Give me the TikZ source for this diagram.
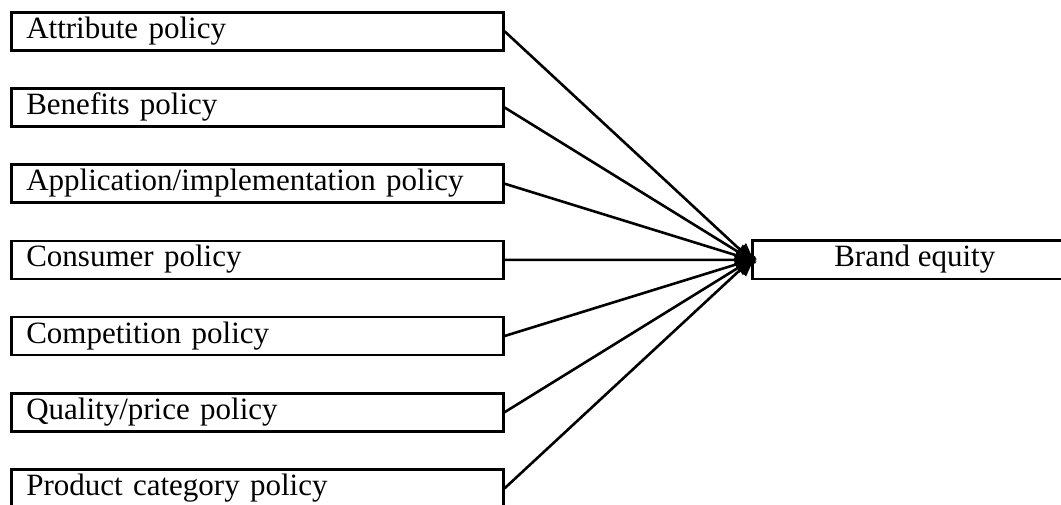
\documentclass[tikz,border=0pt]{standalone}
\usepackage{fontspec}
\setmainfont{Liberation Serif}
\usetikzlibrary{arrows.meta}
\begin{document}
\begin{tikzpicture}[x=1pt,y=-1pt,
  policy/.style={draw, line width=2.6pt, anchor=north west, minimum width=492pt, minimum height=38pt,
    inner xsep=15pt, inner ysep=0pt, text width=462pt, align=left, text height=21pt, text depth=7pt,
    font=\fontsize{31}{37}\selectfont},
  target/.style={draw, line width=2.6pt, anchor=north west, minimum width=325pt, minimum height=38.5pt,
    inner sep=0pt, text height=21pt, text depth=7pt, font=\fontsize{31}{37}\selectfont},
  link/.style={line width=2.6pt, -{Triangle[length=21pt,width=17pt]}, shorten >=-6pt}]
\useasboundingbox (0,0) rectangle (1061,504);
\clip (0,0) rectangle (1061,504);
\node[policy] (p1) at (10,11) {Attribute policy};
\node[policy] (p2) at (10,87.2) {Benefits policy};
\node[policy] (p3) at (10,163.4) {Application/implementation policy};
\node[policy] (p4) at (10,239.5) {Consumer policy};
\node[policy] (p5) at (10,315.7) {Competition policy};
\node[policy] (p6) at (10,391.9) {Quality/price policy};
\node[policy] (p7) at (10,468) {Product category policy};
\node[target] (be) at (751,239.3) {Brand equity};
\foreach \i in {1,...,7} {
  \draw[link] (p\i.east) -- (be.west);
}
\end{tikzpicture}
\end{document}
